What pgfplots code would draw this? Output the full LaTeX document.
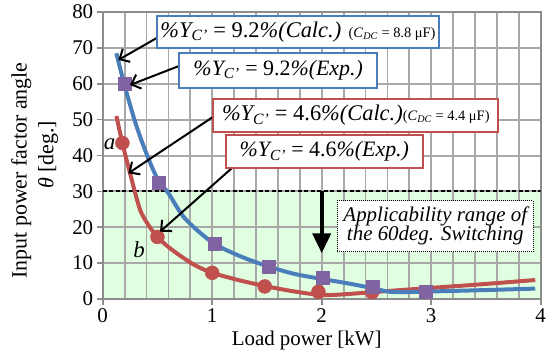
\documentclass[border=0pt]{standalone}
\usepackage{fontspec}
\setmainfont{Liberation Serif}
\usepackage{pgfplots}
\pgfplotsset{compat=1.18}
\usetikzlibrary{arrows.meta}
\definecolor{cblue}{HTML}{4A7EBB}
\definecolor{cred}{HTML}{C0504D}
\definecolor{cpurple}{HTML}{8064A2}
\definecolor{cgreen}{HTML}{E0FFE0}
\definecolor{cgrid}{HTML}{A8A8A8}
\definecolor{caxis}{HTML}{8C8C8C}
\newcommand{\fs}[1]{\fontsize{#1}{#1}\selectfont}
\begin{document}
\begin{tikzpicture}[x=1bp,y=1bp]
\begin{axis}[
  set layers,
  at={(0,0)}, anchor=south west,
  scale only axis, width=438bp, height=287bp,
  xmin=0, xmax=4, ymin=0, ymax=80,
  xtick={0,1,2,3,4}, ytick={0,10,...,80},
  minor x tick num=4,
  grid=both,
  major grid style={cgrid, line width=2bp},
  minor grid style={cgrid, line width=1.8bp},
  axis line style={draw=caxis, line width=1.6bp},
  tick align=outside, tick pos=left,
  major tick length=6bp, minor tick length=0pt,
  tick style={caxis, line width=1.6bp},
  ticklabel style={font=\fs{21}},
  /pgf/number format/assume math mode=true,
]
% applicability region
\addplot[on layer=axis background, fill=cgreen, draw=none] coordinates {(0,0) (4,0) (4,30) (0,30)} -- cycle;
\addplot[black, line width=2bp, dash pattern=on 4bp off 2.5bp] coordinates {(0,30) (4,30)};
% calculated curves
\addplot[cred, line width=4bp, smooth, tension=0.5] coordinates {
(0.125,51) (0.18,43.5) (0.25,35) (0.34,25) (0.42,20.5) (0.5,17.3) (0.6,14.5) (0.72,11.8) (0.85,9.3) (1.0,7.3) (1.25,5.2) (1.5,3.5) (1.75,2.1) (2.0,1.1) (2.2,1.3) (2.5,2.0) (3.0,3.1) (3.5,4.2) (3.95,5.3)};
\addplot[cblue, line width=4bp, smooth, tension=0.5] coordinates {
(0.125,68.5) (0.2,59.5) (0.3,49) (0.4,40.5) (0.5,33.5) (0.6,29.5) (0.75,22.5) (1.0,15.8) (1.25,12) (1.5,9.2) (1.75,7) (2.0,5.6) (2.25,4.3) (2.45,3.1) (2.6,2.1) (2.7,1.9) (3.0,2.1) (3.5,2.5) (3.95,2.9)};
% experimental points
\addplot[only marks, mark=*, mark size=7bp, mark options={fill=cred, draw=cred}] coordinates {
(0.18,43.5) (0.5,17.3) (1.0,7.3) (1.48,3.5) (1.97,2.0) (2.46,1.9)};
\addplot[only marks, mark=square*, mark size=6.5bp, mark options={fill=cpurple, draw=cpurple}] coordinates {
(0.2,60) (0.51,32.3) (1.02,15.5) (1.52,8.9) (2.01,5.8) (2.47,3.4) (2.95,2.1)};
\end{axis}
% arrows
\draw[black, line width=2bp, -{Straight Barb[length=8bp,width=15bp]}] (54,261) -- (15.6,239);
\draw[black, line width=2bp, -{Straight Barb[length=8bp,width=15bp]}] (76.3,233) -- (27.3,214);
\draw[black, line width=2bp, -{Straight Barb[length=8bp,width=15bp]}] (110.6,182.3) -- (25.6,125.7);
\draw[black, line width=2bp, -{Straight Barb[length=8bp,width=15bp]}] (129,130.7) -- (57.3,67.3);
\draw[black, line width=4bp, -{Triangle[length=20bp,width=18bp]}] (219,107.6) -- (219,45.7);
% boxes
\node[draw=cblue, line width=2bp, fill=white, minimum width=282bp, minimum height=32bp, inner sep=0pt] at (195.3,266.8)
  {\fs{22.5}\textit{\%Y\textsubscript{C'}} = 9.2\textit{\%(Calc.)} {\fs{14.5}(\textit{C}\textsubscript{\textit{DC}} = 8.8 μF)}};
\node[draw=cblue, line width=2bp, fill=white, minimum width=198bp, minimum height=35bp, inner sep=0pt] at (175.5,228.5)
  {\fs{22}\textit{\%Y\textsubscript{C'}} = 9.2\textit{\%(Exp.)}};
\node[draw=cred, line width=2bp, fill=white, minimum width=285bp, minimum height=32.5bp, inner sep=0pt] at (253.1,183.7)
  {\fs{22.5}\textit{\%Y\textsubscript{C'}} = 4.6\textit{\%(Calc.)}{\fs{14.5}(\textit{C}\textsubscript{\textit{DC}} = 4.4 μF)}};
\node[draw=cred, line width=2bp, fill=white, minimum width=196.5bp, minimum height=33bp, inner sep=0pt] at (221.6,147.3)
  {\fs{22}\textit{\%Y\textsubscript{C'}} = 4.6\textit{\%(Exp.)}};
\node[draw=black, line width=1bp, dash pattern=on 1bp off 1bp, fill=white, minimum width=196bp, minimum height=51bp, inner sep=0pt, align=center] at (332.6,72.8)
  {\fs{21}\itshape Applicability range of\\[-1bp]\fs{21}\itshape the 60deg. Switching};
% letters
\node[font=\fs{23}\itshape] at (6.8,155) {a};
\node[font=\fs{23}\itshape] at (36.5,49.8) {b};
% axis labels
\node[anchor=base, font=\fs{21}] at (204,-46.6) {Load power [kW]};
\node[rotate=90, font=\fs{22}] at (-81.5,128.5) {Input power factor angle};
\node[rotate=90, font=\fs{22}] at (-54.7,144) {\textit{θ} [deg.]};
\pgfresetboundingbox
\path (-102.7,-57) rectangle (450.3,299);
\end{tikzpicture}
\end{document}
